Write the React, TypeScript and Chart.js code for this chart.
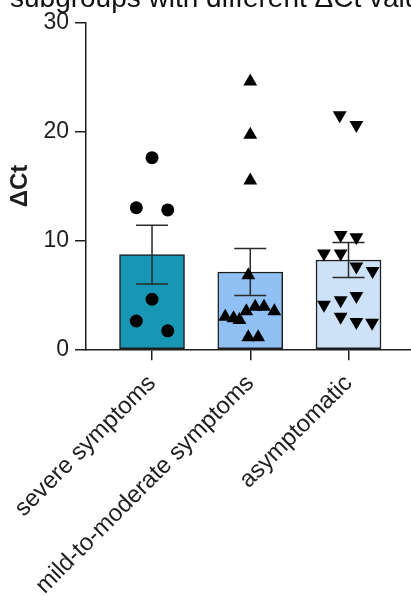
import React, { useEffect, useRef } from 'react';
import { Chart, registerables } from 'chart.js';

Chart.register(...registerables);

// Groups, bar heights (mean) and error bars (SEM)
const groups = ['severe symptoms', 'mild-to-moderate symptoms', 'asymptomatic'];
const groupMeans = [8.7, 7.1, 8.2];
const groupSem = [2.7, 2.15, 1.6];

// Individual ΔCt values per group, with the horizontal scatter offset of each point (category units)
const severeValues = [17.6, 13.0, 12.8, 4.6, 2.6, 1.7];
const severeJitter = [0, -0.16, 0.16, 0, -0.16, 0.16];

const mildValues = [24.6, 19.7, 15.5, 6.8, 3.0, 2.85, 2.7, 3.5, 3.9, 3.9, 3.5, 1.1, 1.1];
const mildJitter = [0, 0, 0, -0.02, -0.255, -0.17, -0.11, -0.04, 0.05, 0.14, 0.245, -0.02, 0.08];

const asymptomaticValues = [21.5, 20.6, 10.5, 10.3, 8.8, 8.8, 7.6, 7.2, 4.1, 4.5, 4.9, 3.0, 2.5, 2.45];
const asymptomaticJitter = [-0.09, 0.08, -0.08, 0.08, -0.25, -0.08, 0.08, 0.245, -0.25, -0.08, 0.08, -0.08, 0.08, 0.24];

const yTicks = [0, 10, 20, 30];

const captionText = 'subgroups with different ΔCt values';

const barColors = ['#1797b3', '#90c0f4', '#cde1f7'];
const ink = '#1e1e1e';
const fontFamily = '"Liberation Sans", Arial, Helvetica, sans-serif';

const W = 411;
const H = 597;

function toPoints(values: number[], jitter: number[], group: number) {
  return values.map((v, i) => ({ x: group + jitter[i], y: v }));
}

// SEM whiskers drawn right after the bars, beneath the scatter markers
const errorBarPlugin = {
  id: 'semWhiskers',
  afterDatasetDraw(chart: any, args: any) {
    if (args.index !== 0) return;
    const { ctx, scales } = chart;
    const xs = scales.x;
    const ys = scales.y;
    ctx.save();
    ctx.strokeStyle = '#2a2a2a';
    ctx.lineWidth = 1.5;
    groupMeans.forEach((m, i) => {
      const x = xs.getPixelForValue(i);
      const yTop = ys.getPixelForValue(m + groupSem[i]);
      const yBot = ys.getPixelForValue(m - groupSem[i]);
      const half = 16;
      ctx.beginPath();
      ctx.moveTo(x, yTop);
      ctx.lineTo(x, yBot);
      ctx.moveTo(x - half, yTop);
      ctx.lineTo(x + half, yTop);
      ctx.moveTo(x - half, yBot);
      ctx.lineTo(x + half, yBot);
      ctx.stroke();
    });
    ctx.restore();
  },
};

// Caption line running across the top edge
const captionPlugin = {
  id: 'caption',
  afterDraw(chart: any) {
    const { ctx } = chart;
    ctx.save();
    ctx.font = `28px ${fontFamily}`;
    ctx.fillStyle = '#111';
    ctx.textBaseline = 'alphabetic';
    ctx.textAlign = 'left';
    ctx.fillText(captionText, 10, 7);
    ctx.restore();
  },
};

const noPadding = () => ({ left: 0, top: 0, right: 0, bottom: 0 });

export default function App() {
  const canvasRef = useRef<HTMLCanvasElement | null>(null);

  useEffect(() => {
    if (!canvasRef.current) return;
    const chart = new Chart(canvasRef.current, {
      type: 'bar',
      data: {
        datasets: [
          {
            type: 'bar',
            data: groupMeans.map((m, i) => ({ x: i, y: m })),
            backgroundColor: barColors,
            borderColor: ink,
            borderWidth: 1.5,
            borderSkipped: false,
            barThickness: 65,
            order: 2,
          } as any,
          {
            type: 'scatter',
            data: toPoints(severeValues, severeJitter, 0),
            pointStyle: 'circle',
            pointRadius: 6.5,
            backgroundColor: '#000',
            borderColor: '#000',
            borderWidth: 0,
            order: 0,
          },
          {
            type: 'scatter',
            data: toPoints(mildValues, mildJitter, 1),
            pointStyle: 'triangle',
            pointRadius: 8,
            backgroundColor: '#000',
            borderColor: '#000',
            borderWidth: 0,
            order: 0,
          },
          {
            type: 'scatter',
            data: toPoints(asymptomaticValues, asymptomaticJitter, 2),
            pointStyle: 'triangle',
            rotation: 180,
            pointRadius: 8,
            backgroundColor: '#000',
            borderColor: '#000',
            borderWidth: 0,
            order: 0,
          },
        ],
      },
      options: {
        responsive: false,
        animation: false,
        devicePixelRatio: 1,
        layout: { autoPadding: false, padding: { top: 22.7, left: 0, right: 0, bottom: 0 } },
        plugins: {
          legend: { display: false },
          tooltip: { enabled: false },
        },
        scales: {
          x: {
            type: 'linear',
            offset: false,
            min: -0.672,
            max: 2.636,
            afterBuildTicks: (s: any) => {
              s.ticks = groups.map((_, i) => ({ value: i }));
            },
            afterFit: (s: any) => {
              s.height = H - 349.3;
              s.paddingLeft = 0;
              s.paddingRight = 0;
              s.getPadding = noPadding;
            },
            ticks: {
              autoSkip: false,
              maxRotation: 45,
              minRotation: 45,
              padding: 9,
              color: ink,
              font: { family: fontFamily, size: 24 },
              callback: (v: any) => groups[v as number],
            },
            grid: {
              display: true,
              offset: false,
              drawOnChartArea: false,
              drawTicks: true,
              tickLength: 11,
              color: ink,
              lineWidth: 1.5,
            },
            border: { display: true, color: ink, width: 1.5 },
          },
          y: {
            type: 'linear',
            min: 0,
            max: 30,
            afterBuildTicks: (s: any) => {
              s.ticks = yTicks.map((v) => ({ value: v }));
            },
            afterFit: (s: any) => {
              s.width = 86;
            },
            ticks: {
              padding: 6,
              color: ink,
              font: { family: fontFamily, size: 23 },
            },
            grid: {
              display: true,
              drawOnChartArea: false,
              drawTicks: true,
              tickLength: 11,
              color: ink,
              lineWidth: 1.5,
            },
            border: { display: true, color: ink, width: 1.5 },
            title: {
              display: true,
              text: 'ΔCt',
              color: ink,
              font: { family: fontFamily, size: 24, weight: 'bold' },
              padding: { top: 6, bottom: 0 },
            },
          },
        },
      },
      plugins: [errorBarPlugin, captionPlugin],
    });
    return () => chart.destroy();
  }, []);

  return (
    <div style={{ position: 'absolute', left: 0, top: 0, width: W, height: H, background: '#fff' }}>
      <canvas ref={canvasRef} width={W} height={H} style={{ display: 'block', width: W, height: H }} />
    </div>
  );
}
